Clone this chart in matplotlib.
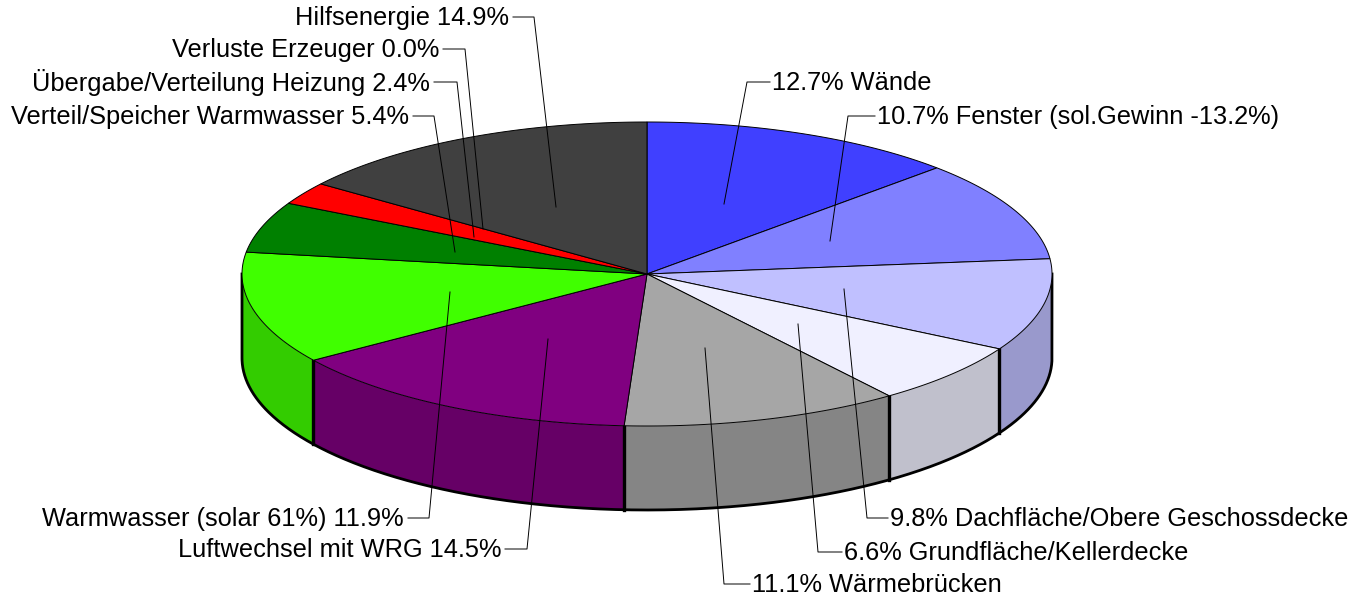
import numpy as np
import matplotlib
matplotlib.use("Agg")
import matplotlib.pyplot as plt

plt.rcParams['font.family'] = ['Liberation Sans', 'DejaVu Sans']

# clockwise from 12 o'clock
names = ["Wände", "Fenster (sol.Gewinn -13.2%)", "Dachfläche/Obere Geschossdecke",
         "Grundfläche/Kellerdecke", "Wärmebrücken", "Luftwechsel mit WRG",
         "Warmwasser (solar 61%)", "Verteil/Speicher Warmwasser",
         "Übergabe/Verteilung Heizung", "Verluste Erzeuger", "Hilfsenergie"]
values = [12.7, 10.7, 9.8, 6.6, 11.1, 14.5, 11.9, 5.4, 2.4, 0.0, 14.9]
top_colors = ["#4040ff", "#8080ff", "#c0c0ff", "#f0f0ff", "#a6a6a6", "#800080",
              "#40ff00", "#008000", "#ff0000", "#ff8000", "#404040"]
side_colors = ["#3333cc", "#6666cc", "#9999cc", "#c0c0cc", "#858585", "#660066",
               "#33cc00", "#006600", "#cc0000", "#cc6600", "#333333"]

# leader lines: text end, elbow, end inside the pie
leaders = [[(770, 82), (747, 82), (724, 204)],
           [(875, 116), (848, 116), (830, 241)],
           [(888, 518), (867, 518), (844, 289)],
           [(842, 552), (818, 552), (798, 324)],
           [(750, 584), (724, 584), (705, 348)],
           [(505, 549), (527, 549), (548, 339)],
           [(408, 518), (429, 518), (450, 292)],
           [(413, 116), (434, 116), (455, 252)],
           [(434, 82), (457, 82), (474, 237)],
           [(443, 49), (465, 49), (483, 229)],
           [(513, 17), (534, 17), (556, 207)]]

cx, cy = 647, 274
rx, ry = 405, 152
depth = 84

def rim(a0, a1):
    t = np.linspace(a0, a1, max(int((a1 - a0) * 200), 2))
    return cx + rx * np.sin(t), cy - ry * np.cos(t)

fig = plt.figure(figsize=(13.65, 5.98), dpi=100)
ax = fig.add_axes([0, 0, 1, 1])
ax.set_xlim(0, 1365)
ax.set_ylim(598, 0)
ax.axis("off")

edges = np.concatenate([[0], np.cumsum(values)]) / sum(values) * 2 * np.pi

# side wall, only the front half shows
for i in range(len(values)):
    a0 = max(edges[i], np.pi / 2)
    a1 = min(edges[i + 1], 3 * np.pi / 2)
    if a1 <= a0:
        continue
    x, y = rim(a0, a1)
    ax.fill(np.r_[x, x[::-1]], np.r_[y, y[::-1] + depth], fc=side_colors[i], ec="none", zorder=1)
    if edges[i] > np.pi / 2:
        ax.plot([x[0], x[0]], [y[0], y[0] + depth], color="black", lw=2.4, zorder=2)

# heavy outline round the wall
x, y = rim(np.pi / 2, 3 * np.pi / 2)
ax.plot(np.r_[x[0], x, x[-1]], np.r_[y[0], y + depth, y[-1]], color="black", lw=2.0, zorder=2)

# top
for i in range(len(values)):
    if values[i] == 0:
        continue
    x, y = rim(edges[i], edges[i + 1])
    ax.fill(np.r_[cx, x], np.r_[cy, y], fc=top_colors[i], ec="black", lw=0.7, zorder=3)

for i in range(len(values)):
    xs, ys = zip(*leaders[i])
    ax.plot(xs, ys, color="black", lw=0.7, zorder=4)
    if xs[0] > xs[1]:
        ax.text(xs[0] + 2, ys[0] + 1, f"{values[i]:.1f}% {names[i]}", ha="left", va="center", fontsize=18.3, zorder=5)
    else:
        ax.text(xs[0] - 4, ys[0] + 1, f"{names[i]} {values[i]:.1f}%", ha="right", va="center", fontsize=18.3, zorder=5)

fig.savefig("out.png", dpi=100)
